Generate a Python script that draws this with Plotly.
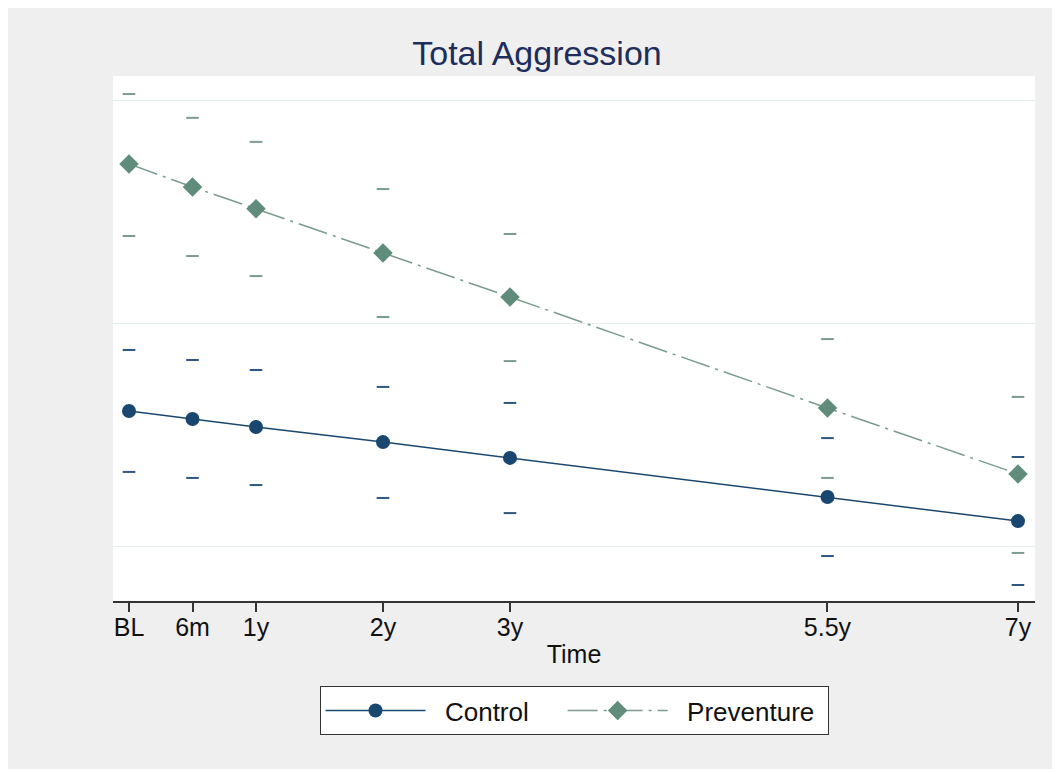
import plotly.graph_objects as go

# ---- data ----
time_labels = ["BL", "6m", "1y", "2y", "3y", "5.5y", "7y"]
time_years = [0, 0.5, 1, 2, 3, 5.5, 7]

control_mean = [1.607, 1.571, 1.535, 1.467, 1.396, 1.220, 1.112]
control_upper = [1.881, 1.836, 1.791, 1.715, 1.643, 1.485, 1.400]
control_lower = [1.333, 1.306, 1.274, 1.216, 1.148, 0.955, 0.825]

preventure_mean = [2.717, 2.613, 2.515, 2.317, 2.119, 1.620, 1.324]
preventure_upper = [3.031, 2.924, 2.816, 2.604, 2.402, 1.930, 1.670]
preventure_lower = [2.393, 2.303, 2.213, 2.029, 1.831, 1.306, 0.969]

grid_values = [1, 2, 3]

NAVY = "#1a476f"
NAVY_CI = "#2d5680"
GREEN = "#5f8c7b"
GREEN_LINE = "#7a9c8e"
GREEN_CI = "#7a9c8e"
FONT = "Liberation Sans, Arial, sans-serif"
SP = "&nbsp;"

fig = go.Figure()

# CI dashes
for up, lo, col in [(control_upper, control_lower, NAVY_CI),
                    (preventure_upper, preventure_lower, GREEN_CI)]:
    fig.add_trace(go.Scatter(
        x=time_years + time_years, y=up + lo, mode="markers",
        marker=dict(symbol="line-ew", size=9, line=dict(width=2, color=col), color=col),
        showlegend=False, hoverinfo="skip"))

fig.add_trace(go.Scatter(
    x=time_years, y=control_mean, mode="lines+markers",
    name=SP * 2 + "Control" + SP * 4,
    line=dict(color=NAVY, width=1.5),
    marker=dict(symbol="circle", size=14, color=NAVY)))

fig.add_trace(go.Scatter(
    x=time_years, y=preventure_mean, mode="lines+markers",
    name=SP * 2 + "Preventure" + SP,
    line=dict(color=GREEN_LINE, width=1.5, dash="30px,6px,3px,6px"),
    marker=dict(symbol="diamond", size=15, color=GREEN)))

# figure is placed at (8, 8) in the page by the default body margin
W, H = 1050, 761
L, T = 105, 68
R = W - 1027
B = H - 593

fig.update_layout(
    width=W, height=H,
    margin=dict(l=L, r=R, t=T, b=B),
    paper_bgcolor="#efefef",
    plot_bgcolor="white",
    font=dict(family=FONT, size=25, color="#111111"),
    title=dict(text="Total Aggression", x=(537 - 8) / W, xref="container", xanchor="center",
               y=1 - (53 - 8) / H, yref="container", yanchor="middle",
               font=dict(size=34, color="#1e2d5c", family=FONT)),
    showlegend=True,
    legend=dict(orientation="h", x=0.5, xanchor="center", y=-0.162, yanchor="top",
                bgcolor="white", bordercolor="#333333", borderwidth=1,
                font=dict(size=26, color="#111111", family=FONT),
                itemwidth=100, tracegroupgap=0),
    xaxis=dict(range=[-0.126, 7.134], tickvals=time_years, ticktext=time_labels,
               showgrid=False, zeroline=False, showline=True, linecolor="#333333",
               linewidth=1.5, ticks="outside", ticklen=9, tickcolor="#333333",
               tickwidth=1.5, tickfont=dict(size=25, color="#111111"),
               ticklabelstandoff=-6,
               title=dict(text="Time", font=dict(size=25, color="#111111"), standoff=6)),
    yaxis=dict(range=[0.753, 3.112], tickvals=grid_values, showticklabels=False,
               showgrid=True, gridcolor="#e3ecee", gridwidth=1, zeroline=False,
               showline=False, ticks=""),
)

fig.write_html("out.html")
